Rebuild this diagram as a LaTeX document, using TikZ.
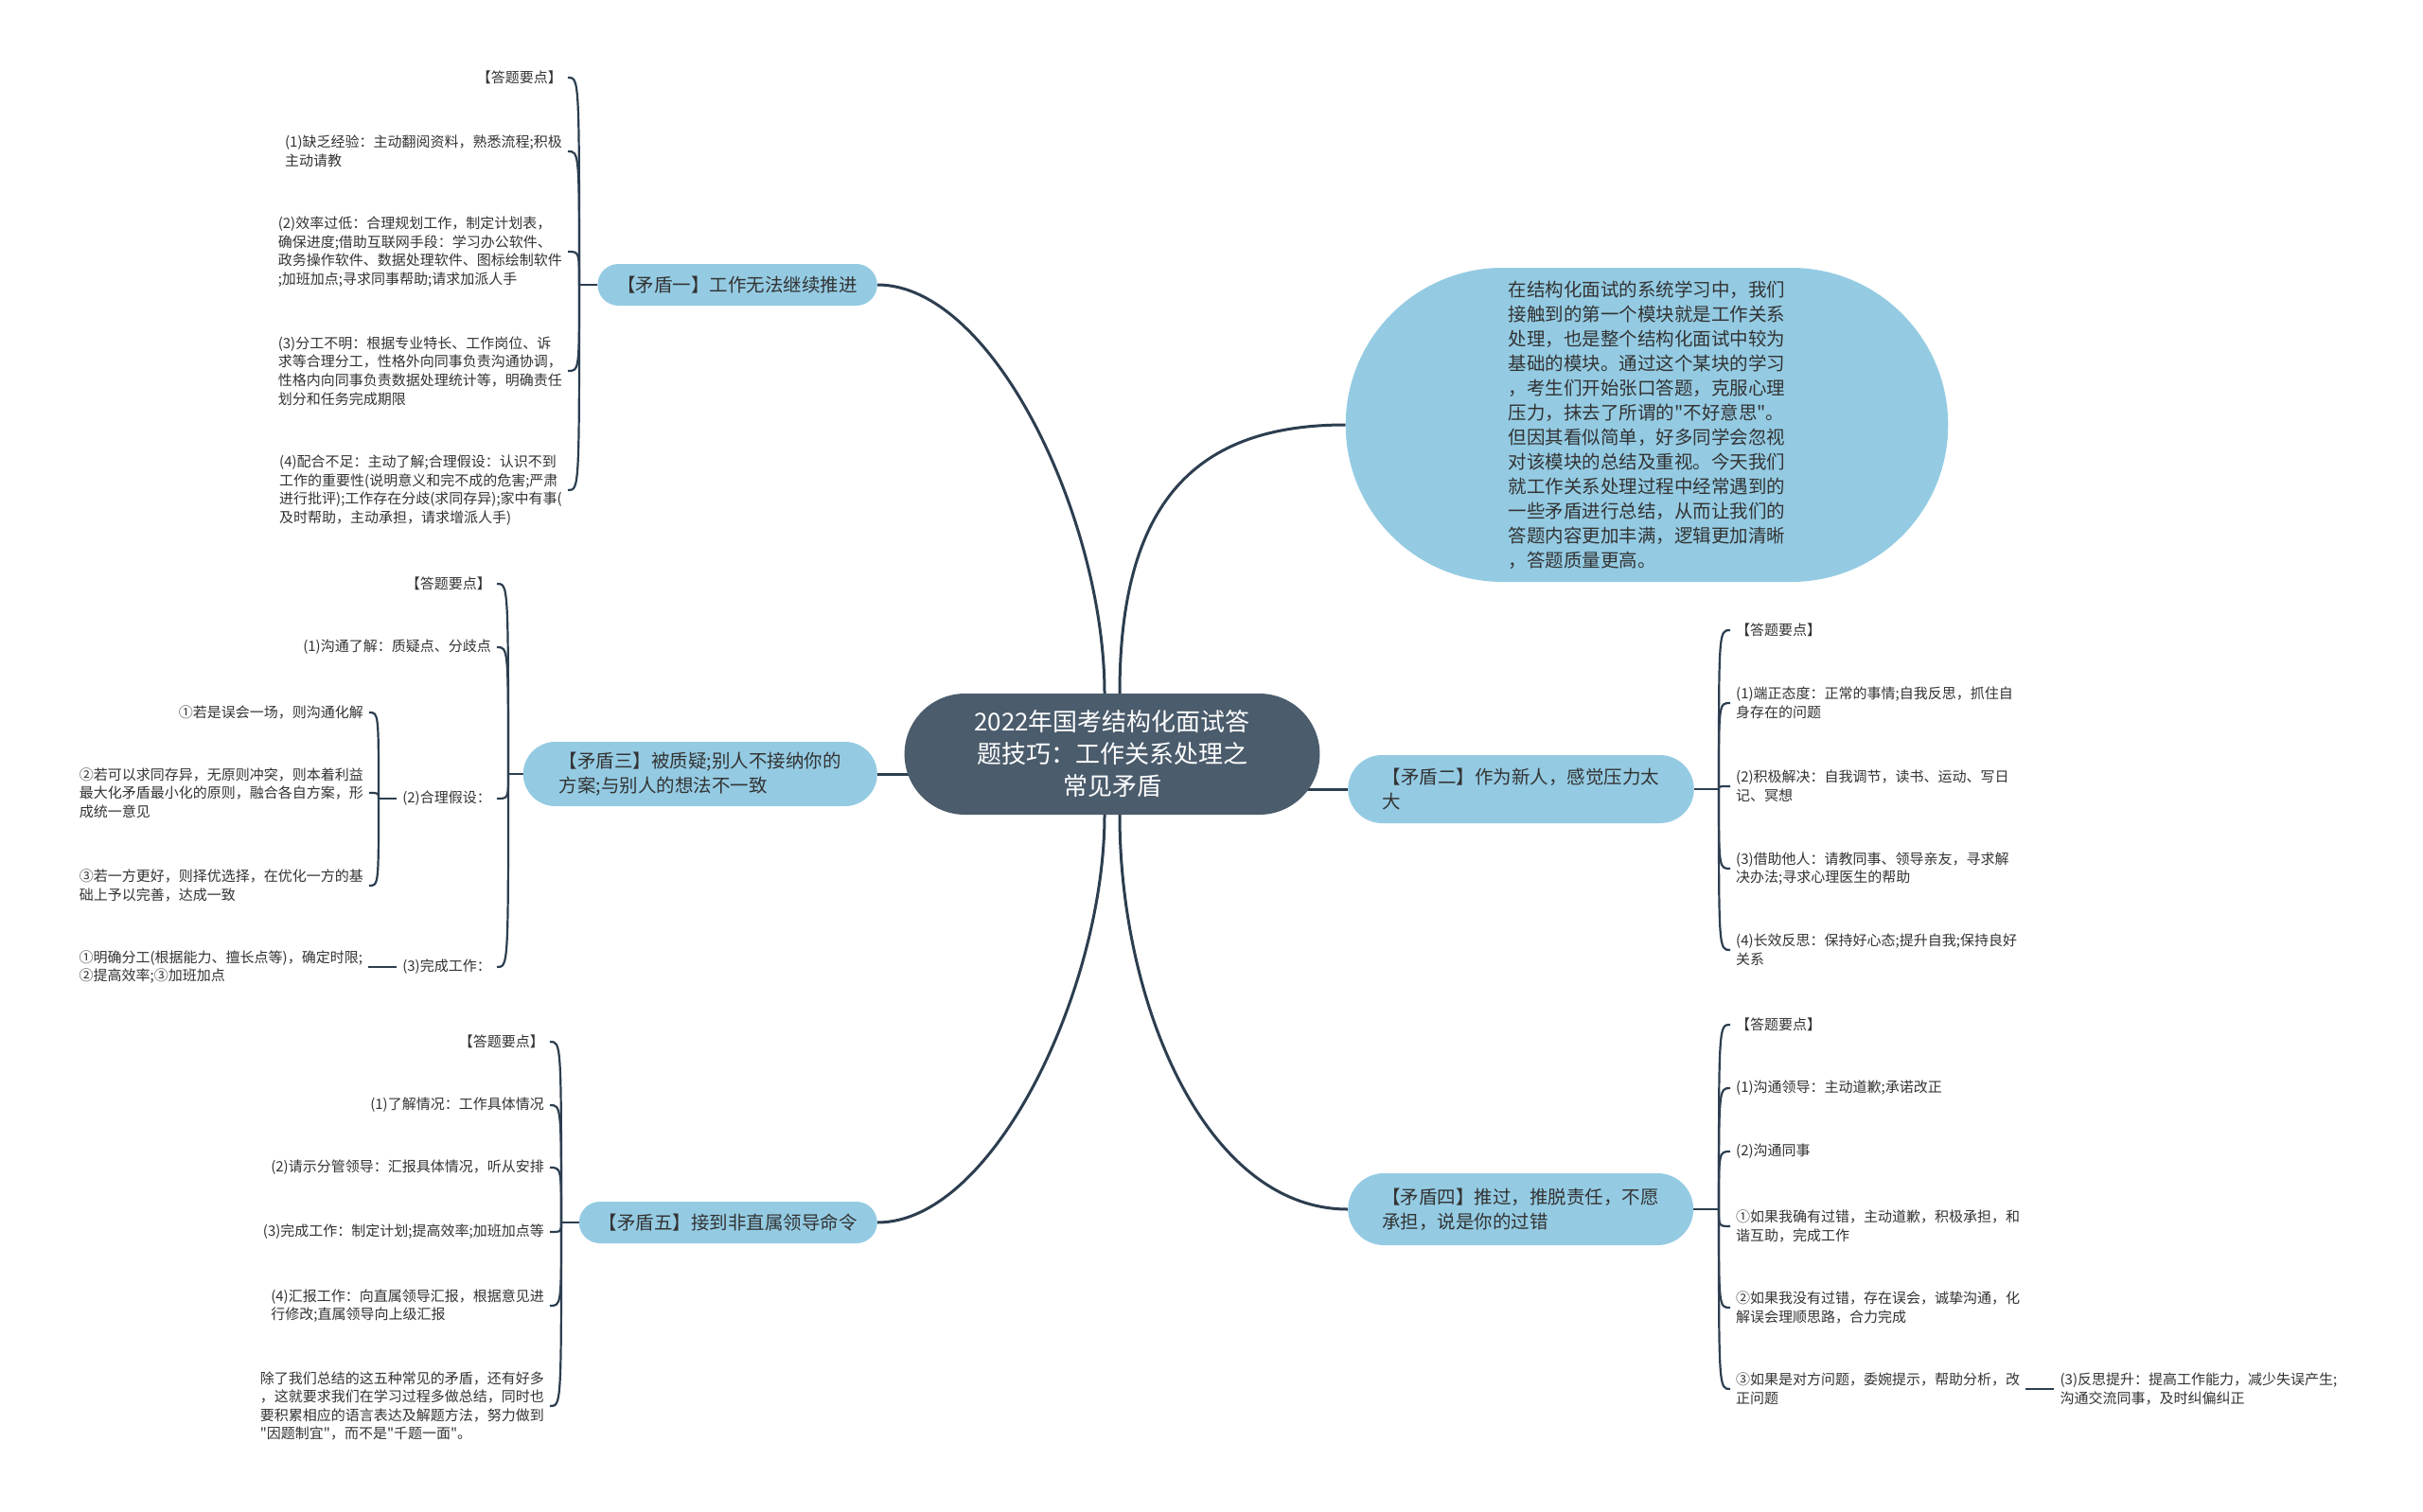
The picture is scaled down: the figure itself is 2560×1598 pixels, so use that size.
\documentclass[tikz,border=0pt]{standalone}
\usepackage{fontspec}
\setmainfont{Noto Sans CJK SC}[Ligatures=TeXOff]
\usetikzlibrary{shapes.misc,positioning,backgrounds}

\definecolor{rootfill}{RGB}{75,92,108}
\definecolor{branchfill}{RGB}{148,203,227}
\definecolor{linkcol}{RGB}{44,62,80}
\definecolor{leaftext}{RGB}{51,51,51}

\newcommand\rootsize{\fontsize{26}{34}\selectfont}
\newcommand\branchsize{\fontsize{19.5}{26}\selectfont}
\newcommand\leafsize{\fontsize{15}{19.6}\selectfont}

\tikzset{
  root/.style={rounded rectangle, fill=rootfill, text=white, font=\rootsize,
    align=center, inner xsep=54pt, minimum height=128pt},
  intro/.style={rounded rectangle, fill=branchfill, text=leaftext, font=\branchsize,
    align=left, inner xsep=72pt, minimum height=332pt},
  branch/.style={rounded rectangle, fill=branchfill, text=leaftext, font=\branchsize,
    align=left, inner xsep=19pt, minimum height=44pt},
  branch2/.style={branch, inner xsep=29pt},
  leaf/.style={text=leaftext, font=\leafsize, align=left, inner xsep=6pt, inner ysep=2pt},
  leafL/.style={leaf, anchor=east},
  leafR/.style={leaf, anchor=west},
  mainlink/.style={draw=linkcol, line width=3pt},
  leaflink/.style={draw=linkcol, line width=2.2pt},
}

\begin{document}
\begin{tikzpicture}[x=1pt,y=1pt]
\useasboundingbox (0,0) rectangle (2560,-1598);

% centre and first level
\node[root] (title) at (1175,-797) {2022年国考结构化面试答\\题技巧：工作关系处理之\\常见矛盾};
\node[intro] (intro) at (1740,-449) {在结构化面试的系统学习中，我们\\接触到的第一个模块就是工作关系\\处理，也是整个结构化面试中较为\\基础的模块。通过这个某块的学习\\，考生们开始张口答题，克服心理\\压力，抹去了所谓的"不好意思"。\\但因其看似简单，好多同学会忽视\\对该模块的总结及重视。今天我们\\就工作关系处理过程中经常遇到的\\一些矛盾进行总结，从而让我们的\\答题内容更加丰满，逻辑更加清晰\\，答题质量更高。};
\node[branch, anchor=east] (m1) at (927,-301) {【矛盾一】工作无法继续推进};
\node[branch2, anchor=east, minimum height=68pt] (m3) at (927,-818) {【矛盾三】被质疑;别人不接纳你的\\方案;与别人的想法不一致};
\node[branch, anchor=east] (m5) at (927,-1292) {【矛盾五】接到非直属领导命令};
\node[branch2, anchor=west, minimum height=72pt] (m2) at (1424,-834) {【矛盾二】作为新人，感觉压力太\\大};
\node[branch2, anchor=west, minimum height=76pt] (m4) at (1424,-1278) {【矛盾四】推过，推脱责任，不愿\\承担，说是你的过错};

\coordinate (j1) at (612,-301);
\coordinate (j3) at (537,-818);
\coordinate (j5) at (593,-1292);
\coordinate (j2) at (1816,-834);
\coordinate (j4) at (1816,-1278);

% 矛盾一
\node[leafL] (a0) at (600,-82) {【答题要点】};
\node[leafL] (a1) at (600,-160) {(1)缺乏经验：主动翻阅资料，熟悉流程;积极\\主动请教};
\node[leafL] (a2) at (600,-266) {(2)效率过低：合理规划工作，制定计划表，\\确保进度;借助互联网手段：学习办公软件、\\政务操作软件、数据处理软件、图标绘制软件\\;加班加点;寻求同事帮助;请求加派人手};
\node[leafL] (a3) at (600,-392) {(3)分工不明：根据专业特长、工作岗位、诉\\求等合理分工，性格外向同事负责沟通协调，\\性格内向同事负责数据处理统计等，明确责任\\划分和任务完成期限};
\node[leafL] (a4) at (600,-518) {(4)配合不足：主动了解;合理假设：认识不到\\工作的重要性(说明意义和完不成的危害;严肃\\进行批评);工作存在分歧(求同存异);家中有事(\\及时帮助，主动承担，请求增派人手)};

% 矛盾三
\node[leafL] (c0) at (525,-617) {【答题要点】};
\node[leafL] (c1) at (525,-684) {(1)沟通了解：质疑点、分歧点};
\node[leafL] (c2) at (525,-844) {(2)合理假设：};
\node[leafL] (c3) at (525,-1022) {(3)完成工作：};
\coordinate (jc) at (400,-844);
\node[leafL] (c21) at (390,-753) {①若是误会一场，则沟通化解};
\node[leafL] (c22) at (390,-838) {②若可以求同存异，无原则冲突，则本着利益\\最大化矛盾最小化的原则，融合各自方案，形\\成统一意见};
\node[leafL] (c23) at (390,-936) {③若一方更好，则择优选择，在优化一方的基\\础上予以完善，达成一致};
\node[leafL, left=30pt of c3] (c31) {①明确分工(根据能力、擅长点等)，确定时限;\\②提高效率;③加班加点};

% 矛盾五
\node[leafL] (e0) at (581,-1101) {【答题要点】};
\node[leafL] (e1) at (581,-1168) {(1)了解情况：工作具体情况};
\node[leafL] (e2) at (581,-1234) {(2)请示分管领导：汇报具体情况，听从安排};
\node[leafL] (e3) at (581,-1302) {(3)完成工作：制定计划;提高效率;加班加点等};
\node[leafL] (e4) at (581,-1380) {(4)汇报工作：向直属领导汇报，根据意见进\\行修改;直属领导向上级汇报};
\node[leafL] (e5) at (581,-1486) {除了我们总结的这五种常见的矛盾，还有好多\\，这就要求我们在学习过程多做总结，同时也\\要积累相应的语言表达及解题方法，努力做到\\"因题制宜"，而不是"千题一面"。};

% 矛盾二
\node[leafR] (b0) at (1828,-666) {【答题要点】};
\node[leafR] (b1) at (1828,-743) {(1)端正态度：正常的事情;自我反思，抓住自\\身存在的问题};
\node[leafR] (b2) at (1828,-831) {(2)积极解决：自我调节，读书、运动、写日\\记、冥想};
\node[leafR] (b3) at (1828,-918) {(3)借助他人：请教同事、领导亲友，寻求解\\决办法;寻求心理医生的帮助};
\node[leafR] (b4) at (1828,-1004) {(4)长效反思：保持好心态;提升自我;保持良好\\关系};

% 矛盾四
\node[leafR] (d0) at (1828,-1083) {【答题要点】};
\node[leafR] (d1) at (1828,-1150) {(1)沟通领导：主动道歉;承诺改正};
\node[leafR] (d2) at (1828,-1217) {(2)沟通同事};
\node[leafR] (d3) at (1828,-1296) {①如果我确有过错，主动道歉，积极承担，和\\谐互助，完成工作};
\node[leafR] (d4) at (1828,-1382) {②如果我没有过错，存在误会，诚挚沟通，化\\解误会理顺思路，合力完成};
\node[leafR] (d5) at (1828,-1468) {③如果是对方问题，委婉提示，帮助分析，改\\正问题};
\node[leafR, right=30pt of d5] (d51) {(3)反思提升：提高工作能力，减少失误产生;\\沟通交流同事，及时纠偏纠正};

\begin{pgfonlayer}{background}
\fill[white] (0,0) rectangle (2560,-1598);
\draw[mainlink] ([xshift=-8pt]title.north) .. controls +(0,183) and +(123,0) .. (m1.east);
\draw[mainlink] ([xshift=8pt]title.north) .. controls +(0,204) and +(-157,0) .. (intro.west);
\draw[mainlink] (m3.east) -- (title.center |- m3.east);
\draw[mainlink] (m2.west) -- (title.center |- m2.west);
\draw[mainlink] ([xshift=-8pt]title.south) .. controls +(0,-183) and +(123,0) .. (m5.east);
\draw[mainlink] ([xshift=8pt]title.south) .. controls +(0,-200) and +(-150,0) .. (m4.west);

\draw[leaflink] (m1.west) -- (j1);
\foreach \n in {a0,a1,a2,a3,a4}
  \draw[leaflink] (j1) .. controls (j1 |- \n.east) .. (\n.east);
\draw[leaflink] (m3.west) -- (j3);
\foreach \n in {c0,c1,c2,c3}
  \draw[leaflink] (j3) .. controls (j3 |- \n.east) .. (\n.east);
\draw[leaflink] (c2.west) -- (jc);
\foreach \n in {c21,c22,c23}
  \draw[leaflink] (jc) .. controls (jc |- \n.east) .. (\n.east);
\draw[leaflink] (c3.west) -- (c31.east);
\draw[leaflink] (m5.west) -- (j5);
\foreach \n in {e0,e1,e2,e3,e4,e5}
  \draw[leaflink] (j5) .. controls (j5 |- \n.east) .. (\n.east);
\draw[leaflink] (m2.east) -- (j2);
\foreach \n in {b0,b1,b2,b3,b4}
  \draw[leaflink] (j2) .. controls (j2 |- \n.west) .. (\n.west);
\draw[leaflink] (m4.east) -- (j4);
\foreach \n in {d0,d1,d2,d3,d4,d5}
  \draw[leaflink] (j4) .. controls (j4 |- \n.west) .. (\n.west);
\draw[leaflink] (d5.east) -- (d51.west);
\end{pgfonlayer}
\end{tikzpicture}
\end{document}
